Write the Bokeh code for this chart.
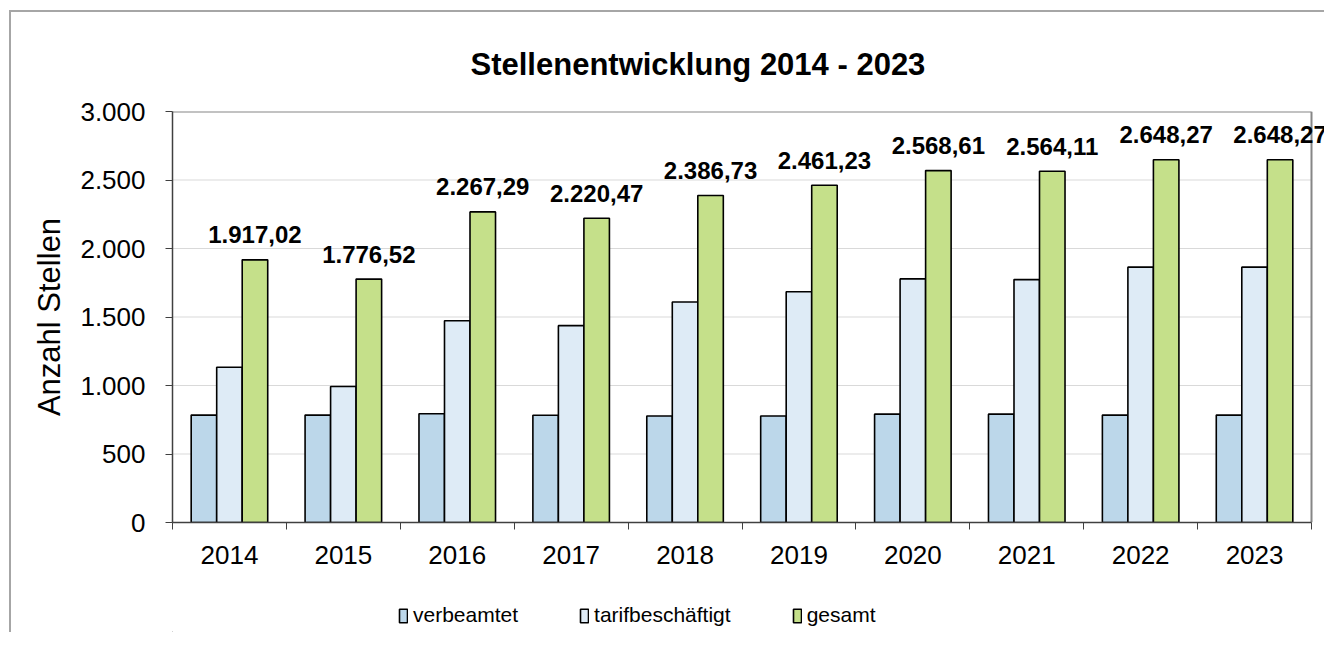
import numpy as np
from bokeh.plotting import figure
from bokeh.layouts import column
from bokeh.models import (ColumnDataSource, FixedTicker, Range1d, LabelSet,
                          Legend, LegendItem)
from bokeh.embed import file_html
from bokeh.resources import INLINE
from bokeh.core.properties import value

# ---------------- data ----------------
years = ["2014", "2015", "2016", "2017", "2018", "2019", "2020", "2021", "2022", "2023"]
verbeamtet = [784, 784, 794, 783, 777, 777, 791, 791, 784, 784]
tarifbeschaeftigt = [1133, 993, 1473, 1437, 1610, 1684, 1778, 1773, 1864, 1864]
gesamt = [1917.02, 1776.52, 2267.29, 2220.47, 2386.73, 2461.23, 2568.61, 2564.11, 2648.27, 2648.27]
series_names = ["verbeamtet", "tarifbeschäftigt", "gesamt"]
y_ticks = [0, 500, 1000, 1500, 2000, 2500, 3000]
y_tick_labels = ["0", "500", "1.000", "1.500", "2.000", "2.500", "3.000"]
title_text = "Stellenentwicklung 2014 - 2023"
y_title = "Anzahl Stellen"

# ---------------- style / layout ----------------
FONT = "Liberation Sans"
colors = ["#BCD7EA", "#DEEBF6", "#C5E08A"]
n = len(years)
bw = 0.224
offsets = [-bw, 0.0, bw]

W, H1, H2 = 1313, 578, 42
B_LEFT, B_TOP, B_BOTTOM = 161, 99, 68
CAT_PX = 113.9
x_end = (W - B_LEFT) / CAT_PX


def de_fmt(v):
    s = f"{v:,.2f}"
    return s.replace(",", "X").replace(".", ",").replace("X", ".")


centers = np.arange(n) + 0.5
src = ColumnDataSource(dict(
    year=years,
    x0=centers + offsets[0],
    x1=centers + offsets[1],
    x2=centers + offsets[2],
    verbeamtet=verbeamtet,
    tarif=tarifbeschaeftigt,
    gesamt=gesamt,
    glabel=[de_fmt(v) for v in gesamt],
))

p = figure(width=W, height=H1,
           x_range=Range1d(0, x_end), y_range=Range1d(0, y_ticks[-1]),
           output_backend="svg", toolbar_location=None,
           min_border_left=B_LEFT, min_border_right=0,
           min_border_top=B_TOP, min_border_bottom=B_BOTTOM)
p.outline_line_color = None
p.xgrid.grid_line_color = None
p.ygrid.grid_line_color = None

# grid lines and plot-area border (limited to the category extent)
p.segment(x0=0, x1=n, y0=y_ticks[1:-1], y1=y_ticks[1:-1],
          line_color="#d9d9d9", line_width=1, level="underlay")
p.segment(x0=[0, n], x1=[n, n], y0=[y_ticks[-1], 0], y1=[y_ticks[-1], y_ticks[-1]],
          line_color="#868686", line_width=2)

bar_style = dict(line_color="black", line_width=1.6)
bar_kw = dict(bottom=0, width=bw, source=src, **bar_style)
r0 = p.vbar(x="x0", top="verbeamtet", fill_color=colors[0], **bar_kw)
r1 = p.vbar(x="x1", top="tarif", fill_color=colors[1], **bar_kw)
r2 = p.vbar(x="x2", top="gesamt", fill_color=colors[2], **bar_kw)

# value labels
p.add_layout(LabelSet(x="x2", y="gesamt", text="glabel", source=src,
                      y_offset=16.5, text_align="center", text_baseline="alphabetic",
                      text_font=value(FONT), text_font_style="bold",
                      text_font_size="24px", text_color="black"))

# title
p.title.text = title_text
p.title.align = "left"
p.title.offset = 298
p.title.text_font = FONT
p.title.text_font_style = "bold"
p.title.text_font_size = "31px"
p.title.text_color = "black"
p.title.standoff = 59

# y axis
ya = p.yaxis[0]
ya.ticker = FixedTicker(ticks=y_ticks)
ya.major_label_overrides = {t: l for t, l in zip(y_ticks, y_tick_labels)}
ya.major_label_text_font = FONT
ya.major_label_text_font_size = "26px"
ya.major_label_text_color = "black"
ya.major_tick_out = 7
ya.major_tick_in = 0
ya.minor_tick_line_color = None
ya.major_label_standoff = 20
ya.axis_line_color = "#404040"
ya.axis_line_width = 1.5
ya.major_tick_line_color = "#404040"
ya.axis_label = y_title
ya.axis_label_text_font = FONT
ya.axis_label_text_font_style = "normal"
ya.axis_label_text_font_size = "31px"
ya.axis_label_text_color = "black"
ya.axis_label_standoff = 10

# x axis
xa = p.xaxis[0]
xa.bounds = (0, n)
xa.ticker = FixedTicker(ticks=list(centers), minor_ticks=list(range(n + 1)))
xa.major_label_overrides = {float(c): y for c, y in zip(centers, years)}
xa.major_label_text_font = FONT
xa.major_label_text_font_size = "26px"
xa.major_label_text_color = "black"
xa.major_tick_line_color = None
xa.minor_tick_out = 7
xa.minor_tick_in = 0
xa.minor_tick_line_color = "#404040"
xa.major_label_standoff = 16
xa.axis_line_color = "#404040"
xa.axis_line_width = 1.5

# legend strip (separate figure directly below the chart); its swatch
# renderers hold one zero-height bar placed outside the visible range
p2 = figure(width=W, height=H2, x_range=p.x_range, y_range=Range1d(0, 1),
            output_backend="svg", toolbar_location=None,
            x_axis_location=None, y_axis_location=None,
            min_border_left=0, min_border_right=0, min_border_top=0, min_border_bottom=0)
p2.outline_line_color = None
p2.xgrid.grid_line_color = None
p2.ygrid.grid_line_color = None
swatch = ColumnDataSource(dict(x=[-float(n)], top=[0.0]))
leg_kw = dict(x="x", top="top", bottom=0, width=bw, source=swatch, **bar_style)
l0 = p2.vbar(fill_color=colors[0], **leg_kw)
l1 = p2.vbar(fill_color=colors[1], **leg_kw)
l2 = p2.vbar(fill_color=colors[2], **leg_kw)
legend = Legend(items=[LegendItem(label=nm, renderers=[r]) for nm, r in zip(series_names, [l0, l1, l2])],
                orientation="horizontal", location=(226, 5),
                label_text_font=FONT, label_text_font_size="21px", label_text_color="black",
                glyph_width=10, glyph_height=17, label_standoff=5, spacing=61,
                padding=0, margin=0, border_line_color=None, background_fill_alpha=0)
p2.add_layout(legend)

layout = column(p, p2, spacing=0)
layout.styles = {"margin-left": "9px", "margin-top": "10px",
                 "border-left": "2px solid #a6a6a6", "border-top": "2px solid #a6a6a6"}

open("out.html", "w").write(file_html(layout, INLINE))
